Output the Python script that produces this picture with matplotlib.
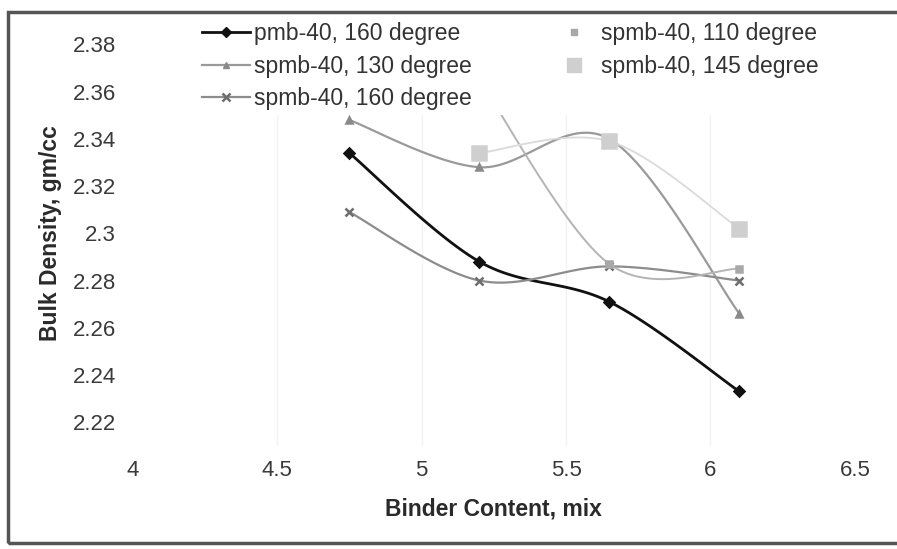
import matplotlib
matplotlib.use("Agg")
import matplotlib.pyplot as plt
import numpy as np
from matplotlib.lines import Line2D
from matplotlib.patches import Rectangle

plt.rcParams["font.family"] = ["Liberation Sans", "DejaVu Sans"]

# data
binder = [4.75, 5.2, 5.65, 6.1]
pmb_160 = [2.334, 2.288, 2.271, 2.233]
spmb_130 = [2.348, 2.328, 2.340, 2.266]
spmb_160 = [2.309, 2.280, 2.286, 2.280]
binder_110 = [5.2, 5.65, 6.1]
spmb_110 = [2.365, 2.287, 2.285]
binder_145 = [5.2, 5.65, 6.1]
spmb_145 = [2.334, 2.339, 2.302]

x_ticks = [4, 4.5, 5, 5.5, 6, 6.5]
x_labels = ["4", "4.5", "5", "5.5", "6", "6.5"]
y_ticks = [2.22, 2.24, 2.26, 2.28, 2.3, 2.32, 2.34, 2.36, 2.38]
y_labels = ["2.22", "2.24", "2.26", "2.28", "2.3", "2.32", "2.34", "2.36", "2.38"]


def smooth(x, y, n=40):
    # excel-like smoothed line: cubic bezier through the points
    x = np.asarray(x, float)
    y = np.asarray(y, float)
    px = np.concatenate([[x[0]], x, [x[-1]]])
    py = np.concatenate([[y[0]], y, [y[-1]]])
    xs, ys = [], []
    t = np.linspace(0, 1, n)
    for i in range(len(x) - 1):
        p0 = np.array([x[i], y[i]])
        p3 = np.array([x[i + 1], y[i + 1]])
        p1 = p0 + (np.array([px[i + 2], py[i + 2]]) - np.array([px[i], py[i]])) / 6
        p2 = p3 - (np.array([px[i + 3], py[i + 3]]) - np.array([px[i + 1], py[i + 1]])) / 6
        b = ((1 - t) ** 3)[:, None] * p0 + (3 * (1 - t) ** 2 * t)[:, None] * p1 \
            + (3 * (1 - t) * t ** 2)[:, None] * p2 + (t ** 3)[:, None] * p3
        xs.append(b[:, 0])
        ys.append(b[:, 1])
    return np.concatenate(xs), np.concatenate(ys)


fig = plt.figure(figsize=(8.97, 5.49), dpi=100)
ax = fig.add_axes([0.148, 0.188, 0.805, 0.774])

series = [
    (binder, pmb_160, "#111111", 2.0, "D", 5, "#111111"),
    (binder, spmb_130, "#9a9a9a", 1.6, "^", 5, "#8a8a8a"),
    (binder, spmb_160, "#8c8c8c", 1.6, "x", 6, "#6e6e6e"),
    (binder_110, spmb_110, "#b4b4b4", 1.4, "s", 5, "#a8a8a8"),
    (binder_145, spmb_145, "#dadada", 1.3, "s", 10, "#cfcfcf"),
]
for xs, ys, lc, lw, mk, ms, mc in series:
    sx, sy = smooth(xs, ys)
    ax.plot(sx, sy, color=lc, lw=lw, zorder=2)
    ax.plot(xs, ys, ls="none", marker=mk, ms=ms, color=mc, mew=1.8, zorder=3)

for xv in x_ticks[1:-1]:
    ax.axvline(xv, color="#f3f3f3", lw=1, zorder=0)

ax.set_xlim(4, 6.5)
ax.set_ylim(2.21, 2.39)
ax.set_xticks(x_ticks)
ax.set_xticklabels(x_labels)
ax.set_yticks(y_ticks)
ax.set_yticklabels(y_labels)
ax.tick_params(length=0, labelsize=16, labelcolor="#3a3a3a")
ax.tick_params(axis="y", pad=12)
ax.tick_params(axis="x", pad=10)
for s in ax.spines.values():
    s.set_visible(False)

ax.set_xlabel("Binder Content, mix", fontsize=16.5, fontweight="bold", color="#2a2a2a", labelpad=12)
ax.set_ylabel("Bulk Density, gm/cc", fontsize=16.5, fontweight="bold", color="#2a2a2a", labelpad=8)

handles = [
    Line2D([], [], color="#111111", lw=2.0, marker="D", ms=5),
    Line2D([], [], color="#9a9a9a", lw=1.6, marker="^", ms=5, mfc="#8a8a8a", mec="#8a8a8a"),
    Line2D([], [], color="#8c8c8c", lw=1.6, marker="x", ms=6, mec="#6e6e6e", mew=1.8),
    Line2D([], [], ls="none", marker="s", ms=5, color="#a8a8a8"),
    Line2D([], [], ls="none", marker="s", ms=10, color="#cfcfcf"),
]
labels = ["pmb-40, 160 degree", "spmb-40, 130 degree", "spmb-40, 160 degree",
          "spmb-40, 110 degree", "spmb-40, 145 degree"]
leg = ax.legend(handles, labels, ncol=2, loc="upper left", bbox_to_anchor=(0.09, 1.008),
                fontsize=16.5, frameon=True, framealpha=1, facecolor="white", edgecolor="none",
                handlelength=2.1, handletextpad=0.15, labelspacing=0.42, columnspacing=3.4,
                borderpad=0.2, borderaxespad=0)
for t in leg.get_texts():
    t.set_color("#333333")
leg.set_zorder(5)

fig.patches.append(Rectangle((8 / 897, 1 - 543 / 549), 1.0, (543 - 12) / 549,
                             transform=fig.transFigure, fill=False, ec="#555555", lw=2.5))

fig.savefig("out.png", dpi=100)
